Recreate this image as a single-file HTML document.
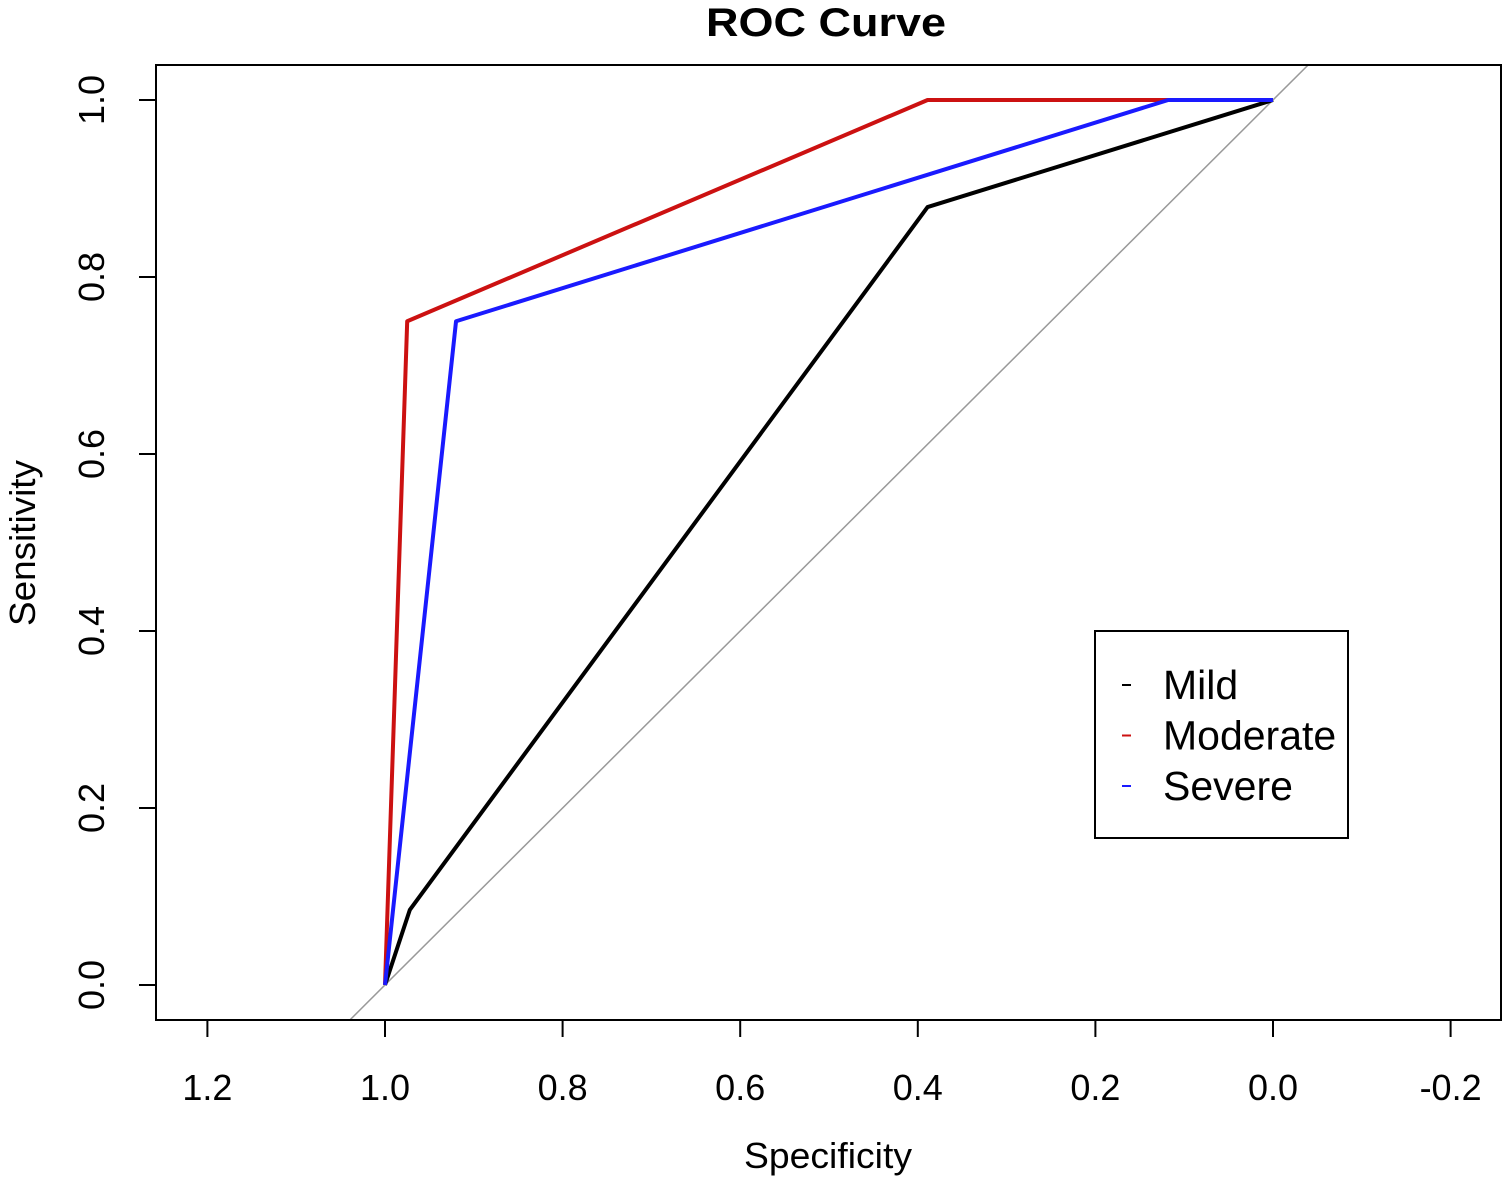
<!DOCTYPE html>
<html><head><meta charset="utf-8"><style>
body{margin:0;background:#fff}
svg{display:block;font-family:"Liberation Sans",Arial,sans-serif}
</style></head><body>
<svg id="chart" width="1508" height="1179" viewBox="0 0 1508 1179">
<text x="826" y="36" text-anchor="middle" font-size="40" font-weight="bold" textLength="240" lengthAdjust="spacingAndGlyphs">ROC Curve</text>
<defs><clipPath id="clip"><rect x="156" y="65" width="1345" height="955"/></clipPath></defs>
<g id="diag" clip-path="url(#clip)"></g>
<g id="series" clip-path="url(#clip)"></g>
<rect x="156" y="65" width="1345" height="955" fill="none" stroke="#000" stroke-width="2"/>
<g id="axes"></g>
<text x="828" y="1168" text-anchor="middle" font-size="36" textLength="168" lengthAdjust="spacingAndGlyphs">Specificity</text>
<text transform="translate(35,543) rotate(-90)" text-anchor="middle" font-size="36" textLength="166" lengthAdjust="spacingAndGlyphs">Sensitivity</text>
<g id="legend"></g>
</svg>
<script>
const xTicks=[1.2,1.0,0.8,0.6,0.4,0.2,0.0,-0.2];
const xTickLabels=["1.2","1.0","0.8","0.6","0.4","0.2","0.0","-0.2"];
const yTicks=[0,0.2,0.4,0.6,0.8,1.0];
const yTickLabels=["0.0","0.2","0.4","0.6","0.8","1.0"];
const seriesNames=["Mild","Moderate","Severe"];
const seriesColors=["#000000","#cc1111","#1a1aff"];
const mildSpec=[1,0.972,0.389,0];
const mildSens=[0,0.085,0.879,1];
const moderateSpec=[1,0.975,0.389,0.118,0];
const moderateSens=[0,0.75,1,1,1];
const severeSpec=[1,0.92,0.118,0];
const severeSens=[0,0.75,1,1];

const NS="http://www.w3.org/2000/svg";
const sx=v=>1273-v*888;
const sy=v=>985-v*885;
function mk(t,a,p){const e=document.createElementNS(NS,t);for(const k in a)e.setAttribute(k,a[k]);p.appendChild(e);return e;}
const axes=document.getElementById('axes');
xTicks.forEach((t,i)=>{
  const l=mk('line',{x1:sx(t),x2:sx(t),y1:1020,y2:1037,stroke:'#000','stroke-width':2},axes);
  
  
  const tx=mk('text',{x:sx(t),y:1100,'text-anchor':'middle','font-size':36},axes);
  tx.textContent=xTickLabels[i];
  
  
});
yTicks.forEach((t,i)=>{
  const l=mk('line',{x1:139,x2:156,y1:sy(t),y2:sy(t),stroke:'#000','stroke-width':2},axes);
  
  
  const tx=mk('text',{transform:`translate(104,${sy(t)}) rotate(-90)`,'text-anchor':'middle','font-size':36},axes);
  tx.textContent=yTickLabels[i];
  
  
});
const d=mk('line',{x1:sx(1.2),y1:sy(-0.2),x2:sx(-0.2),y2:sy(1.2),stroke:'#999','stroke-width':1.5},document.getElementById('diag'));


const sg=document.getElementById('series');
const data=[[mildSpec,mildSens],[moderateSpec,moderateSens],[severeSpec,severeSens]];
data.forEach((s,i)=>{
  const pts=s[0].map((v,j)=>sx(v)+','+sy(s[1][j])).join(' ');
  const p=mk('polyline',{points:pts,fill:'none',stroke:seriesColors[i],'stroke-width':4,'stroke-linejoin':'round'},sg);
  
  
});
const lg=document.getElementById('legend');
const box=mk('rect',{x:1095,y:631,width:253,height:207,fill:'#fff',stroke:'#000','stroke-width':2},lg);


seriesNames.forEach((n,i)=>{
  const y=685+i*50.5;
  const l=mk('line',{x1:1122,x2:1131,y1:y,y2:y,stroke:seriesColors[i],'stroke-width':2},lg);
  
  
  const t=mk('text',{x:1163,y:y+14,'font-size':41},lg);
  t.textContent=n;
  
  
});
</script>
</body></html>
